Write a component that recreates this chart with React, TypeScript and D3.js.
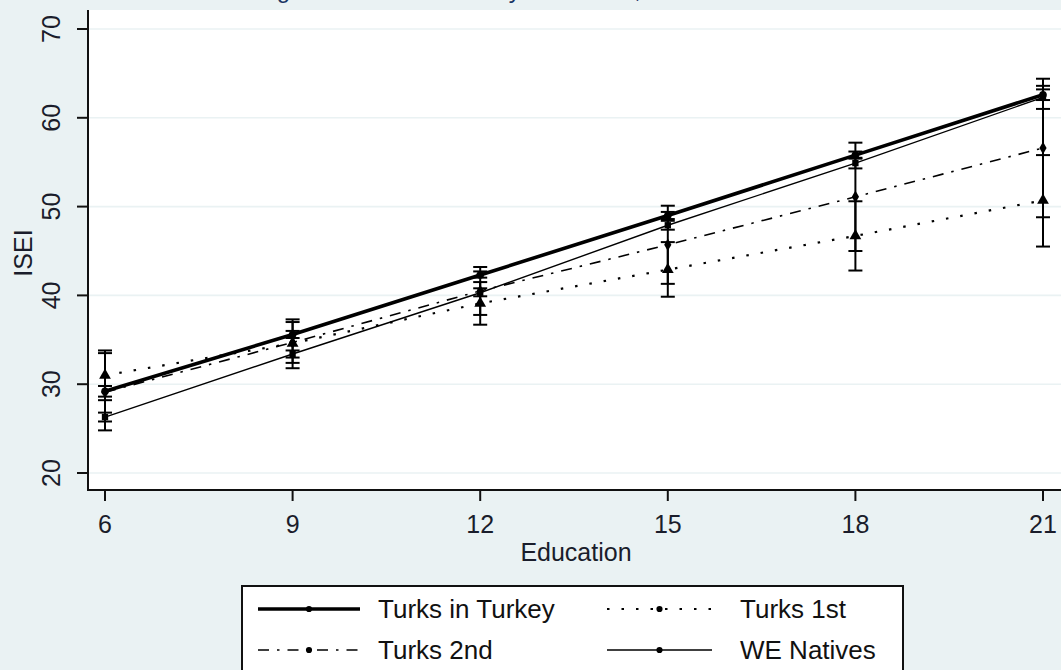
import React from 'react';
import { scaleLinear, line, symbol, symbolCircle, symbolTriangle, symbolDiamond, symbolSquare } from 'd3';

// years of education on the x axis
const education = [6, 9, 12, 15, 18, 21];
const yTicks = [20, 30, 40, 50, 60, 70];

// predicted ISEI per group with 95% bounds
const turkey = [29.2, 35.6, 42.3, 49.0, 55.8, 62.6];
const turkeyLo = [28.6, 35.2, 42.0, 48.6, 55.4, 62.0];
const turkeyHi = [29.8, 36.0, 42.7, 49.4, 56.2, 63.2];

const first = [31.0, 34.6, 39.1, 42.9, 46.7, 50.7];
const firstLo = [28.2, 31.8, 36.7, 39.85, 42.8, 45.5];
const firstHi = [33.8, 37.3, 41.5, 46.0, 50.6, 55.8];

const second = [29.1, 34.7, 40.5, 45.7, 51.1, 56.6];
const secondLo = [24.8, 32.4, 37.8, 41.3, 45.0, 48.8];
const secondHi = [33.5, 37.0, 43.2, 50.1, 57.2, 64.4];

const natives = [26.3, 33.4, 40.3, 47.9, 54.9, 62.3];
const nativesLo = [25.8, 33.0, 39.9, 47.4, 54.3, 61.0];
const nativesHi = [26.8, 33.8, 40.8, 48.4, 55.5, 63.6];

const seriesNames = ['Turks in Turkey', 'Turks 1st', 'Turks 2nd', 'WE Natives'];

const W = 1061;
const H = 670;
const BG = '#eaf2f3';
const FONT = '"Liberation Sans", Arial, sans-serif';

const plot = { left: 88, top: 10, bottom: 490, right: 1075 };

const App = () => {
  const x = scaleLinear().domain([6, 21]).range([105, 1043]);
  const y = scaleLinear().domain([20, 70]).range([473, 29]);

  const series = [
    { name: seriesNames[0], v: turkey, lo: turkeyLo, hi: turkeyHi, width: 3.6, dash: null, sym: symbolCircle, size: 45 },
    { name: seriesNames[1], v: first, lo: firstLo, hi: firstHi, width: 2.2, dash: '2.5 12', sym: symbolTriangle, size: 60 },
    { name: seriesNames[2], v: second, lo: secondLo, hi: secondHi, width: 1.6, dash: '11 8 2.5 8', sym: symbolDiamond, size: 45 },
    { name: seriesNames[3], v: natives, lo: nativesLo, hi: nativesHi, width: 1.4, dash: null, sym: symbolSquare, size: 40 },
  ];

  const path = line<number>()
    .x((_, i) => x(education[i]))
    .y(d => y(d));

  // legend layout
  const legendRows = [609, 650];
  const legendCols = [
    { x1: 258, x2: 360, tx: 378 },
    { x1: 607, x2: 712, tx: 740 },
  ];
  const legendPos = [
    { row: 0, col: 0 },
    { row: 0, col: 1 },
    { row: 1, col: 0 },
    { row: 1, col: 1 },
  ];

  return (
    <svg width={W} height={H} style={{ position: 'absolute', left: 0, top: 0, background: BG }}>
      <rect x={0} y={0} width={W} height={H} fill={BG} />

      {/* title, cut off above the frame: only descenders show */}
      <text x={74} y={-2} fontFamily={FONT} fontSize={24} fill="#1c3765">
        ISEI Returns among Turks and Natives by Education, 2002-2010
      </text>

      {/* plot region */}
      <rect x={plot.left} y={plot.top} width={plot.right - plot.left} height={plot.bottom - plot.top} fill="#fff" />

      {/* grid */}
      {yTicks.map(t => (
        <line key={'g' + t} x1={plot.left} x2={plot.right} y1={y(t)} y2={y(t)} stroke={BG} strokeWidth={1.6} />
      ))}

      {/* error bars */}
      {series.map(s => (
        <g key={'e' + s.name} stroke="#000" strokeWidth={2}>
          {education.map((e, i) => (
            <g key={e}>
              <line x1={x(e)} x2={x(e)} y1={y(s.lo[i])} y2={y(s.hi[i])} />
              <line x1={x(e) - 7} x2={x(e) + 7} y1={y(s.lo[i])} y2={y(s.lo[i])} />
              <line x1={x(e) - 7} x2={x(e) + 7} y1={y(s.hi[i])} y2={y(s.hi[i])} />
            </g>
          ))}
        </g>
      ))}

      {/* lines */}
      {series.map(s => (
        <path
          key={'l' + s.name}
          d={path(s.v) || ''}
          fill="none"
          stroke="#000"
          strokeWidth={s.width}
          strokeDasharray={s.dash || undefined}
        />
      ))}

      {/* markers */}
      {series.map(s => (
        <g key={'m' + s.name}>
          {s.v.map((d, i) => (
            <path
              key={i}
              transform={`translate(${x(education[i])},${y(d)})`}
              d={symbol(s.sym, s.size)() || ''}
              fill="#000"
            />
          ))}
        </g>
      ))}

      {/* axes */}
      <line x1={plot.left} x2={plot.left} y1={plot.top} y2={plot.bottom + 1} stroke="#111" strokeWidth={2} />
      <line x1={plot.left - 1} x2={plot.right} y1={plot.bottom} y2={plot.bottom} stroke="#111" strokeWidth={2} />

      {yTicks.map(t => (
        <g key={'yt' + t}>
          <line x1={plot.left - 11} x2={plot.left} y1={y(t)} y2={y(t)} stroke="#111" strokeWidth={2} />
          <text
            transform={`translate(60,${y(t)}) rotate(-90)`}
            textAnchor="middle"
            fontFamily={FONT}
            fontSize={25}
            fill="#1a1d2b"
          >
            {t}
          </text>
        </g>
      ))}

      {education.map(e => (
        <g key={'xt' + e}>
          <line x1={x(e)} x2={x(e)} y1={plot.bottom} y2={plot.bottom + 11} stroke="#111" strokeWidth={2} />
          <text x={x(e)} y={533} textAnchor="middle" fontFamily={FONT} fontSize={25} fill="#1a1d2b">
            {e}
          </text>
        </g>
      ))}

      <text x={576} y={561} textAnchor="middle" fontFamily={FONT} fontSize={25} fill="#1a1d2b">
        Education
      </text>
      <text transform="translate(32,253) rotate(-90)" textAnchor="middle" fontFamily={FONT} fontSize={25} fill="#1a1d2b">
        ISEI
      </text>

      {/* legend */}
      <rect x={242} y={586} width={661} height={100} fill="#fff" stroke="#111" strokeWidth={2} />
      {series.map((s, i) => {
        const p = legendPos[i];
        const c = legendCols[p.col];
        const ry = legendRows[p.row];
        const mid = (c.x1 + c.x2) / 2;
        return (
          <g key={'lg' + s.name}>
            <line
              x1={c.x1}
              x2={c.x2}
              y1={ry}
              y2={ry}
              stroke="#000"
              strokeWidth={s.width}
              strokeDasharray={s.dash || undefined}
            />
            <path transform={`translate(${mid},${ry})`} d={symbol(symbolCircle, 30)() || ''} fill="#000" />
            <text x={c.tx} y={ry + 9} fontFamily={FONT} fontSize={26} fill="#111">
              {s.name}
            </text>
          </g>
        );
      })}
    </svg>
  );
};

export default App;
